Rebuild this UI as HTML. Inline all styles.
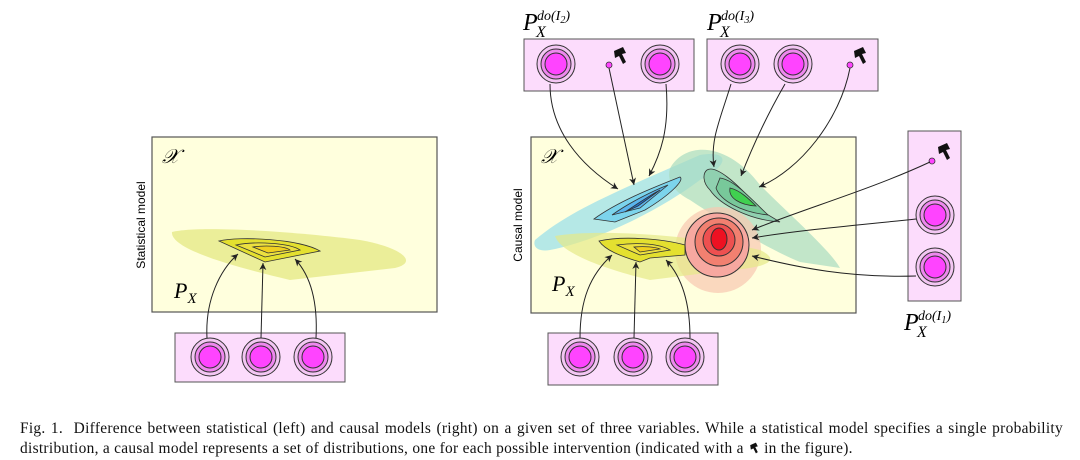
<!DOCTYPE html>
<html><head><meta charset="utf-8"><style>
body{margin:0;background:#fff;width:1080px;height:460px;overflow:hidden}
svg{position:absolute;left:0;top:0}
.cap{position:absolute;left:20px;width:1043px;font-family:"Liberation Serif",serif;font-size:15.4px;letter-spacing:0.3px;color:#111;white-space:nowrap}
</style></head><body>
<svg width="1080" height="400" viewBox="0 0 1080 400" font-family="Liberation Serif,serif">
<defs>
<marker id="a" markerWidth="8" markerHeight="8" refX="7" refY="4" orient="auto" markerUnits="userSpaceOnUse"><path d="M0,0.5 L7,4 L0,7.5 L2,4z" fill="#222"/></marker>
<g id="n"><circle r="19" fill="#f3c6f3" stroke="#333" stroke-width="1"/><circle r="15" fill="#ee88ee" stroke="#333" stroke-width="1"/><circle r="11" fill="#ff44ff" stroke="#333" stroke-width="1"/></g>
<g id="h"><path d="M-4,-6 L5,-10 L8,-4 L4,-3 L8,5 L5,7 L1,-1 L-3,1z" fill="#111"/></g>
</defs>
<!-- left panel -->
<rect x="152" y="137" width="285" height="175" fill="#ffffdd" stroke="#555" stroke-width="1.2"/>
<text x="162" y="163" font-size="20" font-style="italic">𝒳</text>
<text transform="translate(145,225) rotate(-90)" font-family="Liberation Sans,sans-serif" font-size="12" text-anchor="middle">Statistical model</text>
<path d="M172,232 C200,225 300,232 360,240 C400,247 420,262 395,268 L290,280 C240,268 170,250 172,232z" fill="#e6ea88" opacity="0.8"/>
<path d="M219,241 C240,236 300,239 320,251 L265,262 Z" fill="#e4e030" stroke="#333" stroke-width="0.8"/>
<path d="M236,245 C255,241 290,243 300,250 L265,257 Z" fill="#ece040" stroke="#333" stroke-width="0.8"/>
<path d="M253,247 C265,245 285,246 290,250 L268,253 Z" fill="#f0d020" stroke="#333" stroke-width="0.8"/>
<text x="174" y="298" font-size="22" font-style="italic">P<tspan font-size="15" dy="5">X</tspan></text>
<rect x="175" y="333" width="170" height="49" fill="#fcdcfc" stroke="#555"/>
<use href="#n" x="210" y="357"/><use href="#n" x="261" y="357"/><use href="#n" x="313" y="357"/>
<path d="M207,338 C205,300 220,270 238,254" fill="none" stroke="#222" marker-end="url(#a)"/>
<path d="M261,338 L263,263" fill="none" stroke="#222" marker-end="url(#a)"/>
<path d="M316,338 C318,300 310,275 295,259" fill="none" stroke="#222" marker-end="url(#a)"/>
<!-- right panel -->
<rect x="531" y="137" width="325" height="176" fill="#ffffdd" stroke="#555" stroke-width="1.2"/>
<text x="541" y="163" font-size="20" font-style="italic">𝒳</text>
<text transform="translate(522,225) rotate(-90)" font-family="Liberation Sans,sans-serif" font-size="12" text-anchor="middle">Causal model</text>
<path d="M535,240 C570,210 620,190 700,155 C730,150 730,165 700,180 C660,210 600,240 550,250 C540,252 532,248 535,240z" fill="#a8e4e8" opacity="0.85"/>
<path d="M672,165 C690,140 730,145 760,185 C790,215 830,250 840,268 L800,262 C770,250 720,220 690,200 C670,190 665,175 672,165z" fill="#a8dcc0" opacity="0.7"/>
<circle cx="718" cy="250" r="43" fill="#f8c8b0" opacity="0.7"/>
<path d="M555,236 C600,228 700,236 760,250 C785,262 760,268 730,270 L650,280 C600,268 560,252 555,236z" fill="#e6ea88" opacity="0.7"/>
<path d="M594,219 C620,200 660,185 680,177 C685,180 670,195 645,210 L615,222 Z" fill="#7cd4ec" stroke="#333" stroke-width="0.8"/>
<path d="M612,215 C630,202 655,190 668,185 L640,208 Z" fill="#5ab4ec" stroke="#333" stroke-width="0.8"/>
<path d="M625,212 C640,202 652,194 660,190 L638,206 Z" fill="#2070d0" stroke="#333" stroke-width="0.8"/>
<path d="M707,170 C715,165 735,180 760,210 L780,222 C750,220 720,205 710,190 C702,182 703,173 707,170z" fill="#90d0b0" stroke="#333" stroke-width="0.8"/>
<path d="M720,178 C735,180 752,200 768,215 C740,212 720,200 716,188z" fill="#78c89a" stroke="#333" stroke-width="0.8"/>
<path d="M730,188 C740,190 750,200 756,206 C740,205 728,198 730,188z" fill="#40d050" stroke="#333" stroke-width="0.8"/>
<path d="M599,241 C620,236 660,238 685,245 L685,255 L650,258 L640,262 C620,256 605,250 599,241z" fill="#e4e030" stroke="#333" stroke-width="0.8"/>
<path d="M617,245 C640,242 660,244 670,250 L640,255 Z" fill="#ece040" stroke="#333" stroke-width="0.8"/>
<path d="M634,247 C645,246 655,247 660,249 L640,252 Z" fill="#f0d020" stroke="#333" stroke-width="0.8"/>
<circle cx="717" cy="245" r="32" fill="#f7a8a0" stroke="#333" stroke-width="1"/>
<circle cx="719" cy="242" r="24" fill="#f28070" stroke="#333" stroke-width="1"/>
<circle cx="719" cy="240" r="16" fill="#ee5050" stroke="#333" stroke-width="1"/>
<ellipse cx="719" cy="239" rx="8" ry="11" fill="#ee1122" stroke="#333" stroke-width="1"/>
<text x="552" y="291" font-size="22" font-style="italic">P<tspan font-size="15" dy="5">X</tspan></text>
<rect x="548" y="333" width="170" height="52" fill="#fcdcfc" stroke="#555"/>
<use href="#n" x="580" y="357"/><use href="#n" x="633" y="357"/><use href="#n" x="685" y="357"/>
<path d="M580,338 C580,300 590,275 612,255" fill="none" stroke="#222" marker-end="url(#a)"/>
<path d="M634,338 L636,262" fill="none" stroke="#222" marker-end="url(#a)"/>
<path d="M690,338 C690,300 680,275 666,260" fill="none" stroke="#222" marker-end="url(#a)"/>
<!-- top boxes -->
<rect x="524" y="39" width="170" height="52" fill="#fcdcfc" stroke="#555"/>
<use href="#n" x="556" y="64"/><use href="#n" x="660" y="64"/>
<circle cx="609" cy="65" r="3" fill="#ff44ff" stroke="#333" stroke-width="0.8"/><use href="#h" x="618" y="57"/>
<text x="523" y="30" font-size="24" font-style="italic">P</text><text x="537" y="20" font-size="14" font-style="italic">do(I<tspan font-size="10" dy="3">2</tspan><tspan dy="-3">)</tspan></text><text x="536" y="37" font-size="16" font-style="italic">X</text>
<rect x="707" y="39" width="171" height="52" fill="#fcdcfc" stroke="#555"/>
<use href="#n" x="740" y="64"/><use href="#n" x="793" y="64"/>
<circle cx="850" cy="65" r="3" fill="#ff44ff" stroke="#333" stroke-width="0.8"/><use href="#h" x="858" y="57"/>
<text x="707" y="30" font-size="24" font-style="italic">P</text><text x="721" y="20" font-size="14" font-style="italic">do(I<tspan font-size="10" dy="3">3</tspan><tspan dy="-3">)</tspan></text><text x="720" y="37" font-size="16" font-style="italic">X</text>
<path d="M550,84 C550,130 580,165 618,189" fill="none" stroke="#222" marker-end="url(#a)"/>
<path d="M609,68 L634,185" fill="none" stroke="#222" marker-end="url(#a)"/>
<path d="M666,84 C670,130 660,155 649,176" fill="none" stroke="#222" marker-end="url(#a)"/>
<path d="M731,84 C720,120 710,140 714,167" fill="none" stroke="#222" marker-end="url(#a)"/>
<path d="M785,84 C770,110 755,140 741,176" fill="none" stroke="#222" marker-end="url(#a)"/>
<path d="M850,68 C840,120 800,170 759,187" fill="none" stroke="#222" marker-end="url(#a)"/>
<!-- right vertical box -->
<rect x="908" y="131" width="53" height="170" fill="#fcdcfc" stroke="#555"/>
<circle cx="932" cy="161" r="3" fill="#ff44ff" stroke="#333" stroke-width="0.8"/><use href="#h" x="942" y="153"/>
<use href="#n" x="935" y="215"/><use href="#n" x="935" y="267"/>
<path d="M930,162 C870,190 800,210 752,230" fill="none" stroke="#222" marker-end="url(#a)"/>
<path d="M916,219 C860,225 800,230 752,238" fill="none" stroke="#222" marker-end="url(#a)"/>
<path d="M916,276 C850,278 800,268 752,256" fill="none" stroke="#222" marker-end="url(#a)"/>
<text x="904" y="330" font-size="24" font-style="italic">P</text><text x="918" y="320" font-size="14" font-style="italic">do(I<tspan font-size="10" dy="3">1</tspan><tspan dy="-3">)</tspan></text><text x="917" y="337" font-size="16" font-style="italic">X</text>
</svg>
<div class="cap" style="top:420px;text-align:justify;text-align-last:justify">Fig. 1.&nbsp; Difference between statistical (left) and causal models (right) on a given set of three variables. While a statistical model specifies a single probability</div>
<div class="cap" style="top:440px">distribution, a causal model represents a set of distributions, one for each possible intervention (indicated with a <svg width="12" height="12" viewBox="-5 -11 14 19" style="position:static;vertical-align:-1px"><use href="#h"/></svg> in the figure).</div>
</body></html>
